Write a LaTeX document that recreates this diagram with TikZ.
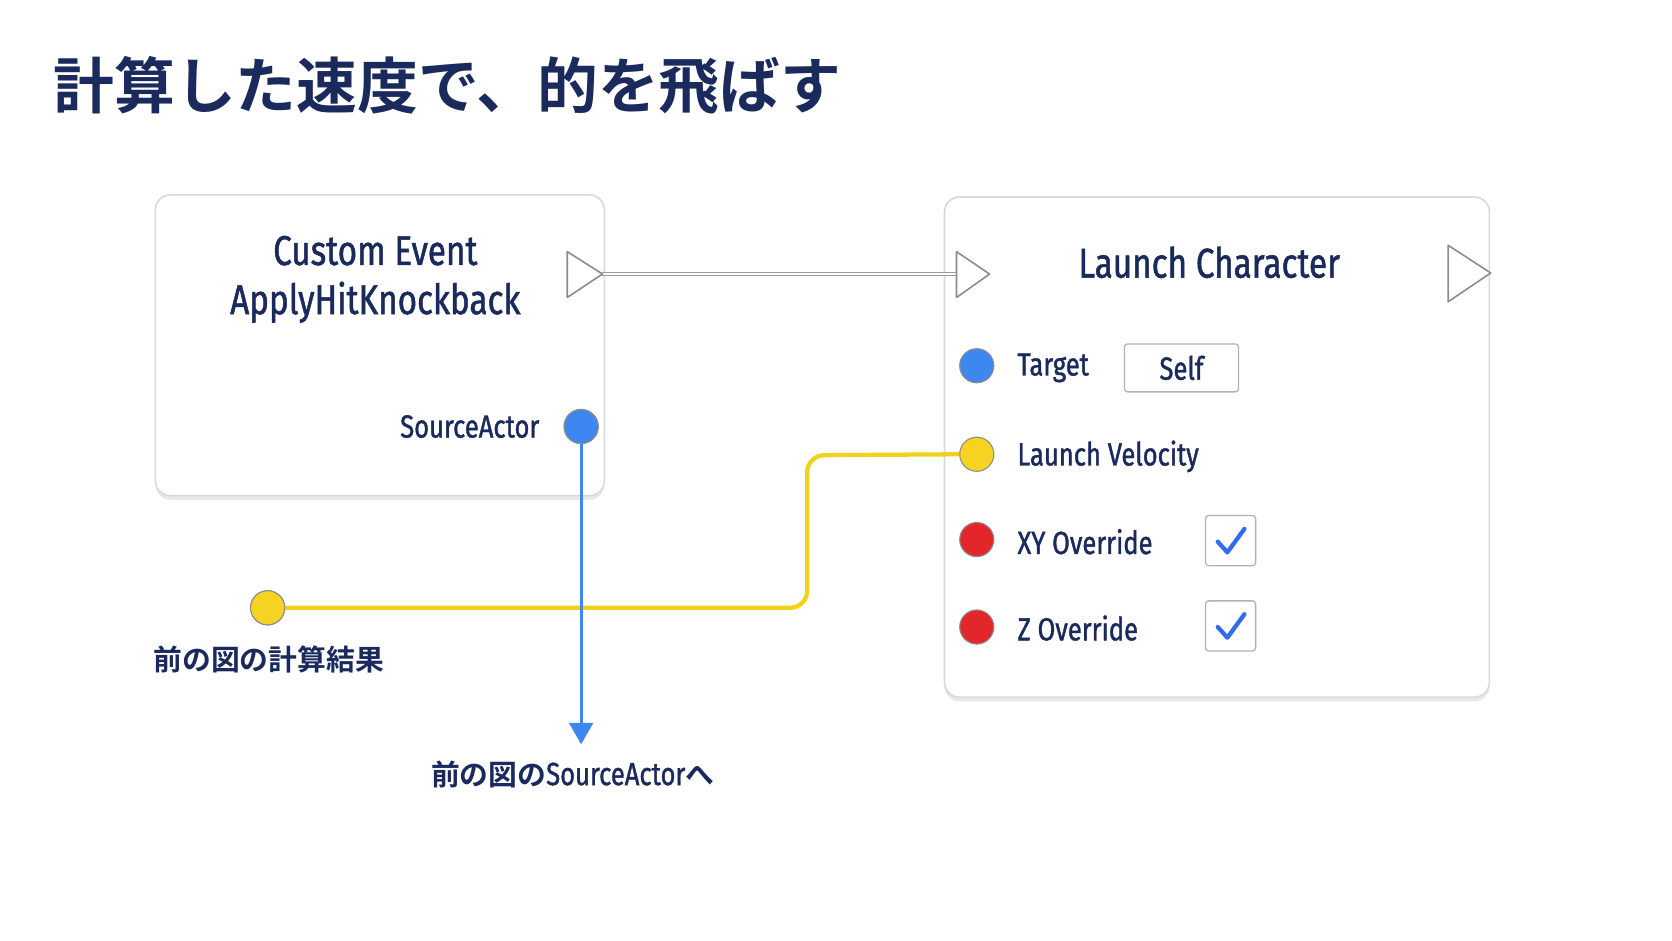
\documentclass[tikz,border=0pt]{standalone}
\usepackage{fontspec}
\setmainfont{Fira Sans}[FakeStretch=0.8, FakeBold=1.2]
\newfontfamily\cjk{Noto Sans CJK JP Bold}
\newfontfamily\cjkb{Noto Sans CJK JP Bold}
\usetikzlibrary{shadows,arrows.meta}
\definecolor{navy}{HTML}{1B2A5C}
\definecolor{pinblue}{HTML}{3E86F0}
\definecolor{pinyel}{HTML}{F5D320}
\definecolor{pinred}{HTML}{E3262A}
\definecolor{wire}{HTML}{F0D21C}
\tikzset{
  card/.style={draw=black!15, line width=1.5pt, rounded corners=14pt, fill=white,
    drop shadow={opacity=0.18, shadow xshift=0pt, shadow yshift=-4pt}},
  lbl/.style={text=navy, font=\fontsize{30}{34}\selectfont, inner sep=0pt},
  pin/.style={circle, minimum size=32pt, inner sep=0pt, draw=black!45, line width=1pt},
  exec/.style={draw=black!45, fill=white, line width=1.5pt, line join=round},
  chk/.style={draw=black!30, line width=1.2pt, rounded corners=3pt, fill=white}
}
\begin{document}
\begin{tikzpicture}[x=1pt,y=-1pt]
\useasboundingbox (0,0) rectangle (1568,882);
\fill[white] (0,0) rectangle (1568,882);
\node[anchor=west, text=navy, inner sep=0pt, font=\cjkb\fontsize{57}{60}\selectfont] (title) at (50,80) {計算した速度で、的を飛ばす};
% cards
\node[card, minimum width=421pt, minimum height=282pt, anchor=north west] (ce) at (145,182) {};
\node[card, minimum width=511pt, minimum height=469pt, anchor=north west] (lc) at (885,184) {};
\node[lbl, align=center, font=\fontsize{39}{46}\selectfont] (cet) at (352,262) {Custom Event\\ApplyHitKnockback};
\node[lbl, font=\fontsize{39}{44}\selectfont] (lct) at (1134,246) {Launch Character};
% exec pins
\coordinate (e1a) at (565,257); \coordinate (e2a) at (897,257);
\draw[black!40, line width=4pt] (e1a) -- (e2a);
\draw[white, line width=1.5pt] (e1a) -- (e2a);
\draw[exec] (532,236) -- (565,257) -- (532,279) -- cycle;
\draw[exec] (897,236) -- (928,257) -- (897,279) -- cycle;
\draw[exec] (1358,230) -- (1398,256) -- (1358,283) -- cycle;
% pins
\node[pin, fill=pinblue] (sa) at (545,400) {};
\node[lbl, anchor=east] (sal) at (506,400) {SourceActor};
\node[pin, fill=pinblue] (tg) at (916,343) {};
\node[lbl, anchor=west] (tgl) at (954,345) {Target};
\node[draw=black!30, line width=1.2pt, rounded corners=3pt, minimum width=107pt, minimum height=45pt, lbl] (self) at (1108,345) {Self};
\node[pin, fill=pinyel] (lv) at (916,426) {};
\node[lbl, anchor=west] (lvl) at (954,428) {Launch Velocity};
\node[pin, fill=pinred] (xy) at (916,506) {};
\node[lbl, anchor=west] (xyl) at (954,508) {XY Override};
\node[pin, fill=pinred] (zo) at (916,588) {};
\node[lbl, anchor=west] (zol) at (954,589) {Z Override};
\node[chk, minimum size=47pt] (c1) at (1154,507) {};
\node[chk, minimum size=47pt] (c2) at (1154,587) {};
\draw[pinblue!80!blue, line width=4pt, line cap=round, line join=round] (1142,508) -- (1151,518) -- (1167,496);
\draw[pinblue!80!blue, line width=4pt, line cap=round, line join=round] (1142,588) -- (1151,598) -- (1167,576);
% wires
\node[pin, fill=pinyel] (src) at (251,570) {};
\draw[wire, line width=4pt, rounded corners=16pt] (src.east) -- (757,570) -- (757,427) -- (lv.west);
\node[pin, fill=pinyel] at (251,570) {};
\coordinate (dn) at (545,698);
\draw[pinblue, line width=3pt, -{Triangle[length=20pt,width=22pt]}] (sa.south) -- (dn);
\node[pin, fill=pinblue] at (545,400) {};
\node[lbl, anchor=north, font=\cjk\fontsize{27}{30}\selectfont] (srcl) at (252,605) {前の図の計算結果};
\node[lbl, anchor=north] (dnl) at (537,713) {{\cjk\fontsize{27}{30}\selectfont 前の図の}SourceActor{\cjk\fontsize{27}{30}\selectfont へ}};
\end{tikzpicture}
\end{document}
